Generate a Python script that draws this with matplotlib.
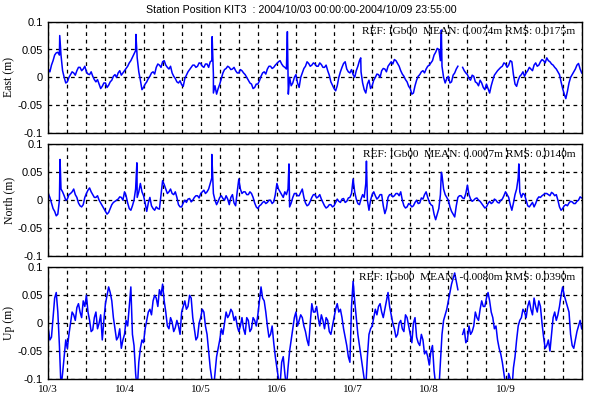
import numpy as np
import matplotlib
matplotlib.use("Agg")
import matplotlib.pyplot as plt
from matplotlib.ticker import MultipleLocator, FixedLocator

plt.rcParams['axes.unicode_minus'] = False

# ---- data: hourly samples (hh:00) and half-hour samples (hh:30), 10/3 00:00 .. 10/10 00:00 ----
nan = np.nan
east = [0.015, 0.022, 0.040, 0.045, 0.040, 0.000, -0.008, 0.005, 0.008, 0.012,
        0.018, 0.015, 0.010, 0.005, 0.002, -0.008, -0.012, -0.016, -0.010, -0.014,
        -0.005, 0.005, 0.008, 0.004, 0.012, 0.020, 0.030, 0.042, 0.035, -0.005,
        -0.018, -0.008, 0.002, 0.010, 0.018, 0.022, 0.028, 0.022, 0.015, 0.008,
        -0.002, -0.010, -0.013, -0.002, 0.010, 0.018, 0.022, 0.020, 0.025, 0.018,
        0.024, 0.028, 0.005, -0.030, -0.012, 0.008, 0.016, 0.018, 0.015, 0.012,
        0.008, 0.012, 0.005, -0.005, -0.012, -0.018, -0.012, 0.002, 0.010, 0.015,
        0.020, 0.018, 0.025, 0.030, 0.020, 0.015, 0.000, -0.010, 0.005, -0.018,
        0.008, 0.020, 0.025, 0.022, 0.024, 0.020, 0.023, 0.018, 0.012, -0.008,
        -0.020, -0.015, 0.010, 0.025, 0.015, 0.008, 0.005, 0.012, 0.030, -0.010,
        -0.028, -0.005, -0.015, 0.000, 0.005, 0.012, 0.015, 0.020, 0.028, 0.032,
        0.025, 0.012, 0.002, -0.008, -0.020, -0.028, -0.005, 0.005, 0.012, 0.015,
        0.022, 0.030, 0.045, 0.050, 0.020, -0.010, 0.002, -0.008, 0.008, 0.020,
        nan, 0.012, 0.005, -0.005, 0.002, -0.010, -0.005, -0.018, -0.012, -0.028,
        -0.005, 0.008, 0.015, 0.020, 0.024, 0.022, 0.028, -0.012, -0.005, 0.005,
        0.002, 0.012, 0.015, 0.022, 0.020, 0.028, 0.030, 0.035, 0.028, 0.022,
        0.015, 0.005, -0.020, -0.038, -0.010, 0.005, 0.015, 0.025, 0.008]
east_half = [0.010, 0.030, 0.044, 0.040, 0.012, -0.010, 0.000, 0.010, 0.004, 0.018,
             0.012, 0.020, 0.006, 0.010, -0.004, -0.004, -0.020, -0.010, -0.018, -0.008,
             0.002, 0.000, 0.012, 0.008, 0.016, 0.026, 0.036, 0.048, 0.010, -0.022,
             -0.012, -0.002, 0.008, 0.006, 0.024, 0.018, 0.030, 0.018, 0.020, 0.002,
             -0.008, -0.006, -0.016, 0.004, 0.014, 0.022, 0.018, 0.026, 0.020, 0.024,
             0.018, 0.030, -0.015, -0.020, -0.002, 0.014, 0.020, 0.014, 0.018, 0.008,
             0.014, 0.008, 0.000, -0.010, -0.020, -0.012, -0.006, 0.008, 0.006, 0.020,
             0.016, 0.022, 0.028, 0.024, 0.018, 0.010, -0.015, 0.000, -0.010, 0.000,
             0.016, 0.028, 0.020, 0.026, 0.020, 0.026, 0.018, 0.022, 0.004, -0.014,
             -0.024, 0.000, 0.018, 0.028, 0.010, 0.014, 0.000, 0.020, 0.010, -0.022,
             -0.012, -0.020, -0.005, 0.006, 0.000, 0.016, 0.010, 0.024, 0.024, 0.030,
             0.020, 0.006, -0.004, -0.016, -0.030, -0.015, 0.002, 0.010, 0.008, 0.020,
             0.026, 0.040, 0.052, 0.030, 0.000, -0.002, -0.010, 0.004, 0.015, nan,
             0.018, 0.008, -0.002, 0.004, -0.008, -0.015, -0.010, -0.022, -0.020, -0.015,
             0.004, 0.012, 0.018, 0.026, 0.018, 0.030, 0.005, -0.016, 0.002, 0.010,
             0.008, 0.018, 0.012, 0.026, 0.022, 0.032, 0.026, 0.030, 0.024, 0.018,
             0.010, -0.008, -0.030, -0.025, 0.000, 0.010, 0.022, 0.015]
east_spike_h = [3.6, 27.6, 51.6, 52.0, 75.3, 75.6, 98.4, 123.8]
east_spike_v = [0.075, 0.077, 0.073, -0.028, 0.082, -0.030, 0.035, 0.085]

north = [0.012, -0.005, -0.020, -0.025, 0.020, 0.008, 0.002, 0.012, 0.020, 0.005,
         -0.010, -0.008, 0.012, 0.022, 0.010, 0.005, 0.000, -0.010, -0.020, -0.022,
         -0.008, -0.002, 0.002, 0.005, 0.015, -0.005, -0.018, 0.000, 0.005, 0.030,
         0.008, -0.020, 0.005, -0.015, -0.012, -0.016, 0.035, 0.020, 0.015, 0.012,
         0.015, -0.008, -0.012, 0.000, 0.002, -0.003, 0.005, 0.008, 0.012, 0.018,
         0.015, 0.030, 0.012, -0.008, 0.005, 0.003, 0.008, -0.008, 0.010, -0.010,
         0.038, 0.012, 0.015, 0.010, 0.012, -0.005, -0.015, -0.008, -0.002, -0.004,
         0.000, -0.003, 0.030, 0.015, 0.005, 0.010, -0.012, 0.005, 0.012, 0.008,
         0.020, -0.005, -0.008, 0.005, 0.010, 0.006, 0.002, -0.010, -0.012, -0.008,
         -0.010, 0.002, -0.004, 0.003, -0.002, 0.005, 0.038, 0.002, -0.008, 0.010,
         0.030, -0.018, 0.010, 0.008, 0.005, 0.010, -0.024, 0.005, 0.010, 0.008,
         0.012, 0.015, -0.010, -0.012, -0.008, -0.010, 0.000, -0.005, 0.002, 0.015,
         -0.003, -0.010, -0.035, -0.015, 0.045, 0.010, 0.000, -0.020, -0.030, 0.005,
         0.008, 0.003, 0.027, 0.002, 0.000, 0.004, -0.002, -0.010, -0.012, -0.002,
         -0.004, 0.000, -0.005, 0.002, 0.015, 0.005, -0.018, 0.010, 0.040, 0.005,
         0.010, -0.010, -0.008, -0.012, 0.002, 0.005, 0.010, 0.012, 0.008, 0.012,
         0.010, -0.012, -0.015, -0.008, -0.005, -0.003, -0.006, 0.000, 0.004]
north_half = [0.005, -0.015, -0.028, 0.000, 0.015, 0.000, 0.010, 0.015, 0.010, -0.005,
              -0.012, 0.005, 0.018, 0.015, 0.005, 0.008, -0.005, -0.015, -0.025, -0.015,
              -0.004, 0.000, 0.006, 0.000, 0.008, -0.015, -0.010, 0.020, 0.015, 0.015,
              -0.005, -0.005, -0.010, -0.018, -0.015, 0.010, 0.028, 0.012, 0.020, 0.010,
              0.005, -0.012, -0.005, -0.004, 0.003, 0.000, 0.008, 0.004, 0.015, 0.012,
              0.020, 0.040, 0.000, -0.002, 0.008, 0.000, 0.002, 0.005, -0.005, 0.015,
              0.020, 0.015, 0.010, 0.015, 0.005, -0.012, -0.010, -0.004, -0.006, 0.000,
              -0.006, 0.010, 0.020, 0.010, 0.015, 0.020, -0.005, 0.012, 0.008, 0.014,
              0.005, -0.010, -0.002, 0.010, 0.004, 0.010, -0.004, -0.014, -0.008, -0.012,
              -0.004, -0.002, 0.002, -0.004, 0.004, 0.012, 0.015, -0.006, 0.002, 0.005,
              0.000, 0.000, 0.015, 0.002, 0.010, -0.010, -0.015, 0.010, 0.006, 0.012,
              0.008, 0.000, -0.014, -0.006, -0.012, -0.004, -0.006, 0.004, 0.010, 0.005,
              -0.008, -0.025, -0.025, 0.010, 0.020, 0.005, -0.012, -0.025, -0.010, 0.008,
              0.004, 0.012, 0.010, -0.002, 0.003, 0.000, -0.006, -0.014, -0.006, -0.006,
              0.002, -0.004, 0.000, 0.008, 0.010, -0.008, -0.005, 0.020, 0.015, 0.012,
              0.000, -0.012, -0.004, -0.006, 0.006, 0.008, 0.012, 0.010, 0.014, 0.008,
              0.000, -0.018, -0.010, -0.010, -0.002, -0.006, -0.002, 0.006]
north_spike_h = [3.7, 27.9, 51.5, 75.8, 100.2, 123.8, 148.2]
north_spike_v = [0.073, 0.067, 0.082, 0.065, 0.070, 0.050, 0.065]

up = [-0.010, -0.025, 0.045, 0.020, -0.115, -0.060, -0.045, 0.000, 0.015, 0.028,
      0.020, 0.040, 0.050, 0.005, -0.012, 0.020, 0.000, -0.030, 0.035, 0.065,
      0.040, -0.010, -0.025, -0.045, -0.020, -0.005, 0.065, -0.040, -0.120, -0.045,
      -0.035, 0.005, 0.025, 0.040, 0.045, 0.060, 0.070, 0.020, -0.010, 0.002,
      -0.008, -0.005, 0.020, 0.040, 0.030, 0.045, -0.010, -0.025, 0.010, 0.020,
      -0.020, -0.080, -0.120, -0.060, -0.030, -0.020, 0.020, 0.015, 0.020, 0.012,
      -0.015, 0.010, -0.020, 0.005, -0.010, 0.005, 0.015, 0.065, 0.040, -0.005,
      -0.020, -0.035, -0.080, -0.110, -0.060, -0.115, -0.050, -0.010, 0.020, 0.005,
      0.010, -0.015, -0.040, 0.035, 0.020, 0.010, 0.015, -0.010, 0.005, -0.020,
      0.010, 0.035, 0.025, -0.010, -0.040, -0.070, 0.075, 0.010, -0.040, -0.080,
      -0.115, -0.020, -0.005, 0.025, 0.030, 0.020, 0.025, 0.055, 0.015, -0.010,
      -0.020, 0.005, -0.015, 0.010, -0.020, 0.000, -0.025, -0.040, -0.030, -0.050,
      -0.075, -0.040, -0.110, -0.120, -0.020, 0.015, 0.040, 0.070, 0.090, 0.060,
      nan, -0.010, -0.030, -0.020, -0.005, 0.010, 0.025, 0.030, 0.045, 0.040,
      0.010, -0.005, -0.045, -0.070, -0.110, -0.090, -0.120, -0.060, -0.005, 0.010,
      0.020, 0.030, 0.025, 0.045, 0.020, 0.030, -0.025, -0.040, -0.050, 0.010,
      0.005, 0.030, 0.065, 0.040, 0.020, -0.040, -0.030, -0.005, -0.010]
up_half = [-0.030, 0.010, 0.055, -0.040, -0.090, -0.030, -0.020, 0.020, 0.005, 0.035,
           0.010, 0.030, 0.020, -0.015, 0.010, -0.010, 0.015, 0.005, 0.050, 0.055,
           0.010, -0.030, -0.010, -0.030, 0.005, 0.030, -0.020, -0.090, -0.070, -0.030,
           -0.010, 0.020, 0.015, 0.050, 0.030, 0.050, 0.040, -0.005, 0.010, -0.015,
           0.005, -0.020, 0.030, 0.025, 0.050, 0.010, -0.030, 0.000, 0.025, -0.005,
           -0.050, -0.100, -0.090, -0.045, -0.010, 0.000, 0.010, 0.025, 0.005, -0.005,
           -0.005, -0.010, 0.010, -0.015, 0.010, -0.005, 0.040, 0.045, 0.020, -0.025,
           -0.005, -0.060, -0.100, -0.070, -0.090, -0.080, -0.030, 0.010, -0.005, 0.015,
           -0.005, -0.030, 0.000, 0.020, 0.030, -0.005, 0.005, 0.010, -0.015, -0.005,
           0.025, 0.020, 0.010, -0.025, -0.060, 0.030, 0.040, -0.020, -0.060, -0.100,
           -0.060, -0.010, 0.010, 0.015, 0.035, 0.010, 0.040, 0.030, 0.000, -0.025,
           0.000, -0.010, 0.015, -0.005, -0.035, 0.010, -0.035, -0.020, -0.055, -0.060,
           -0.050, -0.085, -0.125, -0.070, 0.005, 0.025, 0.055, 0.080, 0.075, nan,
           -0.020, -0.035, -0.005, -0.015, 0.020, 0.005, 0.040, 0.030, 0.055, 0.020,
           -0.010, -0.030, -0.055, -0.090, -0.120, -0.100, -0.080, -0.030, 0.005, 0.025,
           0.010, 0.040, 0.015, 0.030, 0.040, 0.000, -0.045, -0.030, -0.020, 0.020,
           0.015, 0.050, 0.050, 0.030, -0.020, -0.045, -0.015, 0.005]

day_labels = ['10/3', '10/4', '10/5', '10/6', '10/7', '10/8', '10/9']
panel_names = ['East (m)', 'North (m)', 'Up (m)']
panel_notes = ['REF: IGb00  MEAN: 0.0074m RMS: 0.0175m',
               'REF: IGb00  MEAN: 0.0007m RMS: 0.0140m',
               'REF: IGb00  MEAN: -0.0080m RMS: 0.0390m']
title = 'Station Position KIT3  : 2004/10/03 00:00:00-2004/10/09 23:55:00'


def merged(vals, half, sh=(), sv=()):
    t = np.concatenate([np.arange(len(vals), dtype=float),
                        np.arange(len(half), dtype=float) + 0.5,
                        np.asarray(sh, float)])
    v = np.concatenate([np.asarray(vals, float), np.asarray(half, float),
                        np.asarray(sv, float)])
    o = np.argsort(t, kind='stable')
    return t[o], v[o]


series = [merged(east, east_half, east_spike_h, east_spike_v),
          merged(north, north_half, north_spike_h, north_spike_v),
          merged(up, up_half)]

fig = plt.figure(figsize=(6, 4), dpi=100)
L, W = 0.0805, 0.889
bottoms = [0.667, 0.360, 0.0525]
H = 0.279

serif = 'Liberation Serif'
sans = 'Liberation Sans'

for i in range(3):
    ax = fig.add_axes([L, bottoms[i], W, H])
    t, v = series[i]
    ax.plot(t, v, color='#0000ff', lw=1.1)
    ax.set_xlim(0, 168)
    ax.set_ylim(-0.1, 0.1)
    ax.xaxis.set_major_locator(FixedLocator([24 * k for k in range(7)]))
    ax.xaxis.set_minor_locator(MultipleLocator(6))
    ax.yaxis.set_major_locator(FixedLocator([-0.1, -0.05, 0, 0.05, 0.1]))
    ax.set_yticklabels(['-0.1', '-0.05', '0', '0.05', '0.1'], fontfamily=sans, fontsize=8)
    if i == 2:
        ax.set_xticklabels(day_labels, fontfamily=serif, fontsize=8)
    else:
        ax.set_xticklabels([])
    ax.tick_params(axis='both', which='both', length=0, pad=4)
    ax.grid(True, which='both', axis='x', color='black', ls=(0, (3, 3)), lw=0.9)
    ax.grid(True, which='major', axis='y', color='black', ls=(0, (3, 3)), lw=0.9)
    for s in ax.spines.values():
        s.set_color('black')
        s.set_linewidth(1.0)
    ax.set_ylabel(panel_names[i], fontfamily=serif, fontsize=8.5)
    ax.yaxis.label.set_va('center')
    ax.yaxis.set_label_coords(-0.073, 0.5)
    ax.text(0.988, 0.91, panel_notes[i], transform=ax.transAxes, ha='right', va='center',
            fontfamily=serif, fontsize=8.2, color='black')

fig.text(0.503, 0.976, title, ha='center', va='center', fontfamily=sans, fontsize=7.7)
fig.savefig('out.png', dpi=100)
